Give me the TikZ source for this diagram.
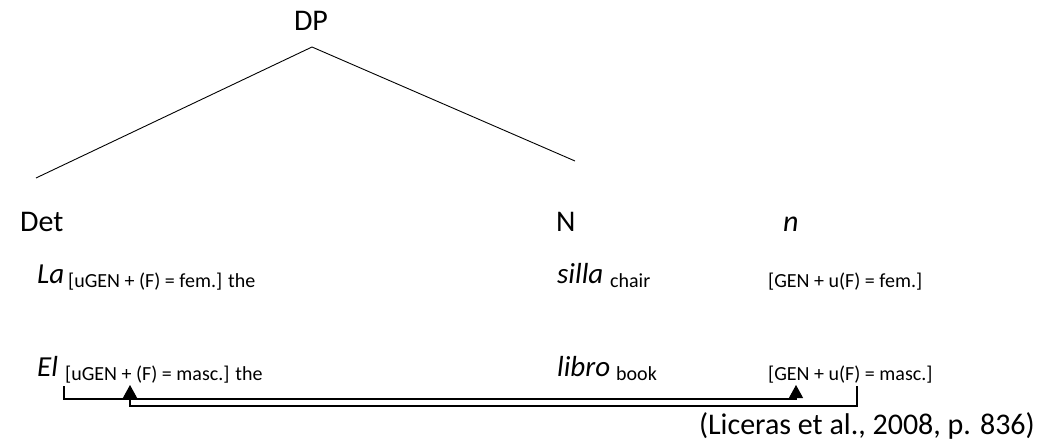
\documentclass[tikz,border=0pt]{standalone}
\usepackage{fontspec}
\setmainfont{Carlito}
\usetikzlibrary{arrows.meta}
\begin{document}
\begin{tikzpicture}[x=1pt,y=-1pt,
  big/.style={font=\fontsize{30}{34}\selectfont, inner sep=0pt, anchor=base west},
  word/.style={font=\fontsize{29}{34}\selectfont\itshape, inner sep=0pt, anchor=base west},
  small/.style={font=\fontsize{20}{24}\selectfont, inner sep=0pt, anchor=base west},
  branch/.style={line width=0.9pt},
  link/.style={line width=1.1pt, -{Triangle[width=14pt,length=13pt]}}]
\useasboundingbox (0,0) rectangle (1057,443);
% tree
\node[big, anchor=base] (dp) at (311,31) {DP};
\coordinate (apex) at (312,47);
\coordinate (lend) at (36,178);
\coordinate (rend) at (575,161);
\draw[branch] (lend) -- (apex) -- (rend);
\node[big] (det) at (20,232) {Det};
\node[big] (N) at (556,232) {N};
\node[big, font=\fontsize{30}{34}\selectfont\itshape] (nn) at (783,232) {n};
% row 1
\node[word] (la) at (37,284) {La};
\node[small] (laf) at (68,288) {[uGEN + (F) = fem.] the};
\node[word] (silla) at (557,284) {silla};
\node[small] (chair) at (610,288) {chair};
\node[small] (nfem) at (768,288) {[GEN + u(F) = fem.]};
% row 2
\node[word] (el) at (37,377) {El};
\node[small] (elf) at (65,381) {[uGEN + (F) = masc.] the};
\node[word] (libro) at (557,377) {libro};
\node[small] (book) at (616,381) {book};
\node[small] (nmasc) at (768,381) {[GEN + u(F) = masc.]};
% connectors
\coordinate (a0) at (64,386);
\coordinate (a2) at (796,385);
\coordinate (b0) at (857,386);
\coordinate (b2) at (130,385);
\draw[link] (a0) -- (64,399) -| (a2);
\draw[link] (b0) -- (857,406) -| (b2);
% citation
\node[big, anchor=base east] (cite) at (1035,434) {(Liceras et al., 2008, p. 836)};
\end{tikzpicture}
\end{document}
